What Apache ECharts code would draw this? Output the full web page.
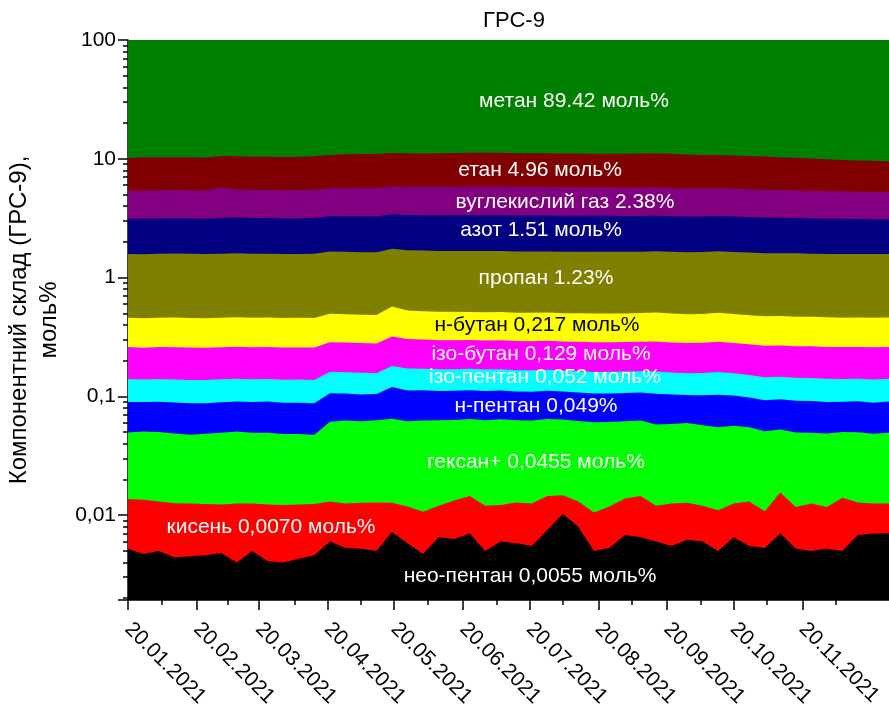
<!DOCTYPE html>
<html>
<head>
<meta charset="utf-8">
<script src="https://cdn.jsdelivr.net/npm/echarts@6/dist/echarts.min.js"></script>
<style>html,body{margin:0;padding:0;background:#fff}#chart{width:889px;height:721px}</style>
</head>
<body>
<div id="chart"></div>
<script>
// days since 20.01.2021, weekly samples
var days = [];
for (var i = 0; i < 50; i++) days.push(i * 7);

var tickDays = [0, 31, 59, 90, 120, 151, 181, 212, 243, 273, 304];
var minorDays = [15, 45, 75, 105, 135, 166, 196, 227, 258, 288, 319];
var tickLabels = ['20.01.2021', '20.02.2021', '20.03.2021', '20.04.2021', '20.05.2021', '20.06.2021',
  '20.07.2021', '20.08.2021', '20.09.2021', '20.10.2021', '20.11.2021'];
var yMinor = [0.002,0.003,0.004,0.005,0.006,0.007,0.008,0.009,0.02,0.03,0.04,0.05,0.06,0.07,0.08,0.09,
  0.2,0.3,0.4,0.5,0.6,0.7,0.8,0.9,2,3,4,5,6,7,8,9,20,30,40,50,60,70,80,90];

var neoPentane = [0.0052,0.0047,0.0050,0.0044,0.0045,0.0046,0.0048,0.0040,0.0050,0.0041,0.0040,0.0043,0.0046,0.0060,0.0053,0.0052,0.0050,0.0072,0.0058,0.0047,0.0065,0.0063,0.0070,0.0050,0.0060,0.0058,0.0055,0.0075,0.0102,0.0080,0.0050,0.0053,0.0068,0.0065,0.0060,0.0055,0.0062,0.0060,0.0050,0.0065,0.0055,0.0053,0.0070,0.0052,0.0050,0.0052,0.0050,0.0068,0.0070,0.0070];
var oxygen = [0.0085,0.0088,0.0080,0.0082,0.0080,0.0078,0.0075,0.0085,0.0075,0.0082,0.0082,0.0080,0.0078,0.0070,0.0072,0.0075,0.0078,0.0055,0.0060,0.0060,0.0055,0.0070,0.0075,0.0070,0.0062,0.0070,0.0070,0.0070,0.0045,0.0050,0.0055,0.0065,0.0070,0.0080,0.0060,0.0070,0.0065,0.0060,0.0060,0.0060,0.0075,0.0055,0.0085,0.0065,0.0075,0.0065,0.0090,0.0060,0.0055,0.0055];
var hexane = [0.036,0.037,0.037,0.036,0.035,0.036,0.037,0.038,0.037,0.037,0.036,0.036,0.035,0.048,0.050,0.049,0.050,0.052,0.050,0.052,0.051,0.050,0.050,0.051,0.052,0.050,0.050,0.050,0.049,0.049,0.050,0.049,0.048,0.048,0.046,0.046,0.047,0.045,0.044,0.044,0.042,0.040,0.037,0.038,0.037,0.037,0.036,0.037,0.036,0.037];
var nPentane = [0.040,0.039,0.040,0.040,0.040,0.039,0.040,0.040,0.040,0.041,0.040,0.040,0.040,0.045,0.043,0.042,0.042,0.055,0.050,0.050,0.048,0.048,0.048,0.048,0.048,0.047,0.047,0.047,0.046,0.046,0.045,0.045,0.045,0.045,0.047,0.045,0.043,0.045,0.048,0.045,0.043,0.042,0.042,0.042,0.042,0.041,0.040,0.041,0.040,0.041];
var isoPentane = [0.050,0.049,0.050,0.050,0.050,0.050,0.050,0.050,0.050,0.050,0.050,0.050,0.050,0.055,0.054,0.054,0.052,0.060,0.060,0.058,0.058,0.058,0.058,0.057,0.057,0.056,0.056,0.056,0.055,0.055,0.055,0.055,0.055,0.055,0.057,0.055,0.054,0.055,0.057,0.055,0.053,0.052,0.052,0.052,0.051,0.051,0.050,0.050,0.050,0.050];
var isoButane = [0.120,0.118,0.120,0.121,0.120,0.119,0.120,0.121,0.120,0.120,0.119,0.120,0.120,0.125,0.124,0.123,0.122,0.140,0.132,0.130,0.128,0.128,0.127,0.127,0.127,0.126,0.126,0.126,0.125,0.125,0.125,0.125,0.125,0.126,0.128,0.126,0.124,0.125,0.128,0.125,0.123,0.122,0.122,0.121,0.121,0.120,0.120,0.120,0.120,0.120];
var nButane = [0.200,0.198,0.200,0.202,0.200,0.199,0.200,0.201,0.200,0.200,0.199,0.200,0.200,0.210,0.208,0.206,0.205,0.250,0.225,0.220,0.218,0.218,0.216,0.216,0.216,0.214,0.214,0.214,0.212,0.212,0.212,0.212,0.212,0.214,0.218,0.214,0.210,0.212,0.218,0.212,0.208,0.206,0.206,0.204,0.204,0.202,0.200,0.200,0.200,0.200];
var propane = [1.12,1.12,1.13,1.13,1.13,1.12,1.13,1.14,1.13,1.13,1.12,1.12,1.13,1.16,1.16,1.15,1.15,1.18,1.17,1.17,1.16,1.16,1.16,1.16,1.16,1.15,1.15,1.15,1.15,1.15,1.15,1.15,1.15,1.15,1.16,1.15,1.14,1.15,1.16,1.15,1.14,1.13,1.13,1.13,1.12,1.12,1.12,1.12,1.12,1.12];
var nitrogen = [1.55,1.55,1.56,1.57,1.56,1.55,1.58,1.60,1.58,1.58,1.57,1.57,1.58,1.62,1.63,1.64,1.64,1.66,1.66,1.66,1.67,1.67,1.68,1.68,1.68,1.67,1.67,1.67,1.66,1.66,1.66,1.66,1.65,1.65,1.65,1.64,1.63,1.63,1.63,1.62,1.60,1.59,1.58,1.57,1.56,1.55,1.54,1.53,1.52,1.52];
var co2 = [2.25,2.28,2.28,2.30,2.28,2.27,2.60,2.35,2.32,2.32,2.30,2.30,2.32,2.40,2.42,2.44,2.44,2.46,2.46,2.46,2.48,2.48,2.50,2.50,2.50,2.48,2.48,2.48,2.46,2.46,2.45,2.45,2.44,2.44,2.44,2.42,2.40,2.38,2.38,2.36,2.33,2.30,2.28,2.26,2.24,2.22,2.20,2.18,2.16,2.15];
var ethane = [4.75,4.90,4.85,4.85,4.85,4.85,4.80,4.95,4.90,4.90,4.90,4.95,5.00,5.10,5.20,5.25,5.25,5.30,5.30,5.25,5.30,5.35,5.40,5.40,5.40,5.35,5.35,5.30,5.30,5.30,5.25,5.25,5.30,5.35,5.40,5.30,5.20,5.10,5.10,5.05,5.00,4.95,4.85,4.75,4.65,4.55,4.45,4.40,4.35,4.30];
var methane = [89.9,89.7,89.7,89.7,89.7,89.8,89.4,89.5,89.6,89.6,89.7,89.6,89.5,89.2,89.1,89.0,89.0,88.7,88.8,88.9,88.8,88.8,88.7,88.7,88.7,88.8,88.8,88.9,88.9,88.9,89.0,89.0,89.0,88.9,88.8,89.0,89.2,89.3,89.3,89.4,89.6,89.7,89.8,90.0,90.2,90.4,90.6,90.7,90.8,90.9];

var bands = [
  ['нео-пентан', neoPentane, '#000000'],
  ['кисень', oxygen, '#ff0000'],
  ['гексан+', hexane, '#00ff00'],
  ['н-пентан', nPentane, '#0000ff'],
  ['ізо-пентан', isoPentane, '#00ffff'],
  ['ізо-бутан', isoButane, '#ff00ff'],
  ['н-бутан', nButane, '#ffff00'],
  ['пропан', propane, '#808000'],
  ['азот', nitrogen, '#000080'],
  ['вуглекислий газ', co2, '#800080'],
  ['етан', ethane, '#800000'],
  ['метан', methane, '#008000']
];

// cumulative tops, each band filled down to the axis; lower bands drawn over upper ones
var running = days.map(function () { return 0; });
var series = bands.map(function (b, k) {
  running = running.map(function (s, i) { return s + b[1][i]; });
  return {
    name: b[0],
    type: 'line',
    z: 20 - k,
    symbol: 'none',
    lineStyle: { width: 0 },
    itemStyle: { color: b[2] },
    areaStyle: { color: b[2], opacity: 1, origin: 'start' },
    data: days.map(function (d, i) { return [d, running[i]]; })
  };
});

var labels = [
  ['метан 89.42 моль%', 574, 101, '#fff'],
  ['етан 4.96 моль%', 540, 170, '#fff'],
  ['вуглекислий газ 2.38%', 565, 202, '#fff'],
  ['азот 1.51 моль%', 541, 230, '#fff'],
  ['пропан 1.23%', 546, 278, '#fff'],
  ['н-бутан 0,217 моль%', 537, 325, '#000'],
  ['ізо-бутан 0,129 моль%', 541, 354, '#fff'],
  ['ізо-пентан 0,052 моль%', 545, 377, '#fff'],
  ['н-пентан 0,049%', 536, 406, '#fff'],
  ['гексан+ 0,0455 моль%', 536, 462, '#fff'],
  ['кисень 0,0070 моль%', 271, 527, '#fff'],
  ['нео-пентан 0,0055 моль%', 530, 576, '#fff']
];

var FONT = 'Liberation Sans';
var axisBase = { lineStyle: { color: '#000', width: 1.5 } };

var chart = echarts.init(document.getElementById('chart'));
chart.setOption({
  animation: false,
  title: {
    text: 'ГРС-9', left: 509, top: 5, textAlign: 'center',
    textStyle: { fontFamily: FONT, fontSize: 22, fontWeight: 'normal', color: '#000' }
  },
  grid: { left: 128, right: 0, top: 40, bottom: 121, outerBoundsMode: 'none' },
  xAxis: [{
    type: 'value', min: 0, max: 343,
    splitLine: { show: false },
    axisLine: axisBase,
    axisTick: { customValues: tickDays, length: 10, lineStyle: { color: '#000', width: 1.5 } },
    axisLabel: {
      customValues: tickDays, rotate: -45, margin: 26, color: '#000',
      fontFamily: FONT, fontSize: 21,
      formatter: function (v) { var k = tickDays.indexOf(Math.round(v)); return k >= 0 ? tickLabels[k] : ''; }
    }
  }, {
    type: 'value', min: 0, max: 343, position: 'bottom',
    splitLine: { show: false },
    axisLine: { show: false },
    axisTick: { customValues: minorDays, length: 5, lineStyle: { color: '#000', width: 1.5 } },
    axisLabel: { show: false }
  }],
  yAxis: [{
    type: 'log', logBase: 10, min: 0.00193, max: 100,
    name: 'Компонентний склад (ГРС-9),\nмоль%', nameLocation: 'middle', nameGap: 62, nameRotate: 90,
    nameTextStyle: { fontFamily: FONT, fontSize: 24, color: '#000', lineHeight: 30 },
    splitLine: { show: false },
    axisLine: { show: true, lineStyle: { color: '#000', width: 1.5 } },
    axisTick: { length: 10, lineStyle: { color: '#000', width: 1.5 } },
    axisLabel: {
      color: '#000', fontFamily: FONT, fontSize: 21, margin: 12,
      formatter: function (v) {
        var l = Math.log10(v);
        if (Math.abs(l - Math.round(l)) > 1e-6) return '';
        return { '2': '100', '1': '10', '0': '1', '-1': '0,1', '-2': '0,01' }[Math.round(l)] || '';
      }
    }
  }, {
    type: 'log', logBase: 10, min: 0.00193, max: 100, position: 'left',
    splitLine: { show: false },
    axisLine: { show: false },
    axisTick: { customValues: yMinor, length: 5, lineStyle: { color: '#000', width: 1.5 } },
    axisLabel: { show: false }
  }],
  series: series,
  graphic: labels.map(function (t) {
    return {
      type: 'text', z: 100, x: t[1], y: t[2],
      style: { text: t[0], fill: t[3], fontFamily: FONT, fontSize: 21, align: 'center', verticalAlign: 'middle' }
    };
  })
});
</script>
</body>
</html>
